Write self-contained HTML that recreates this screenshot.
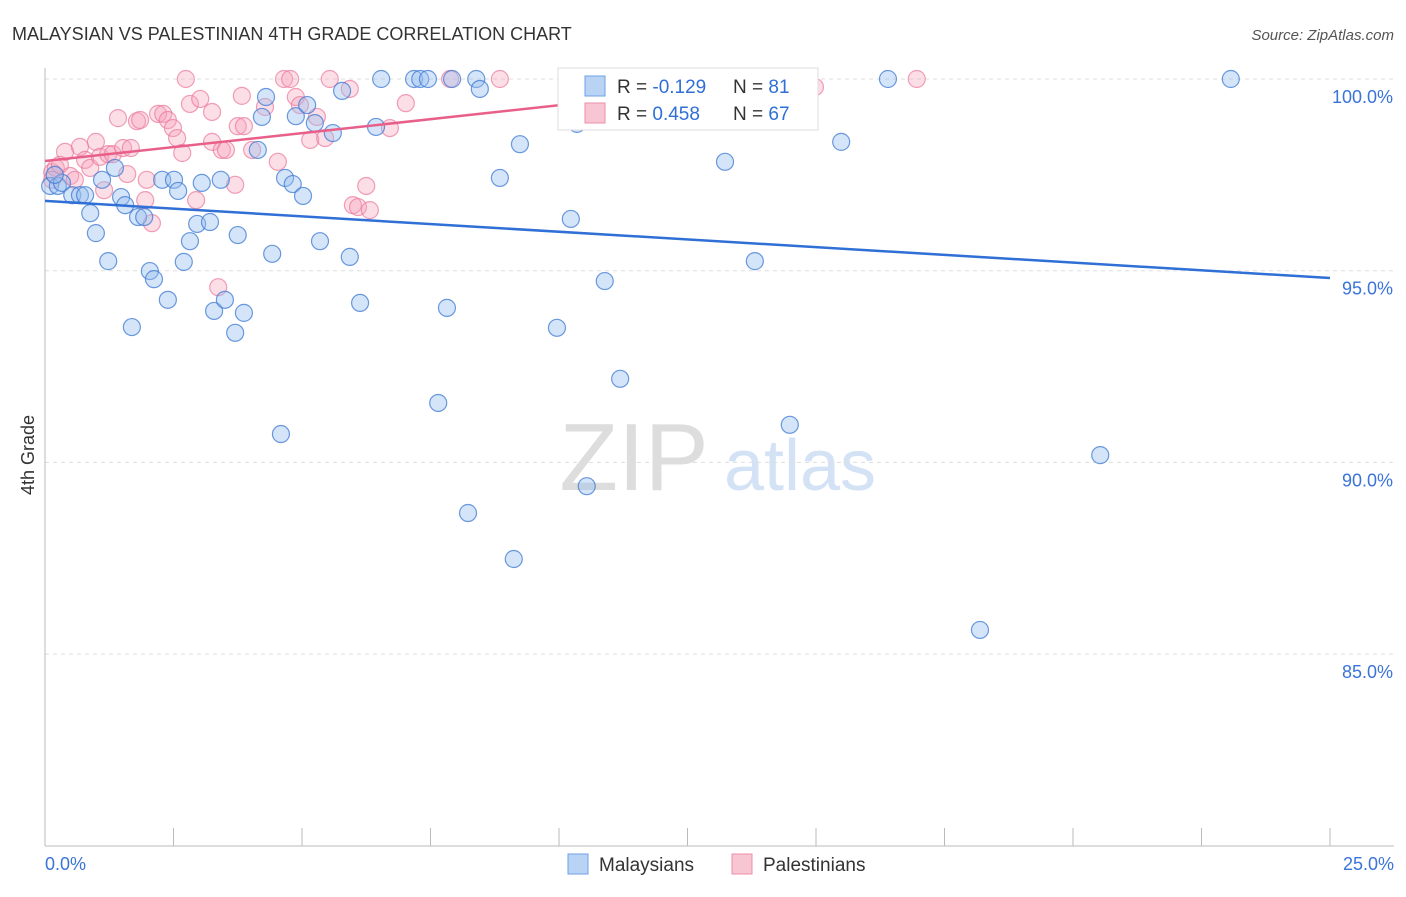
<!DOCTYPE html>
<html><head><meta charset="utf-8"><style>
body{margin:0;background:#fff;font-family:"Liberation Sans",sans-serif;}
svg text{font-family:"Liberation Sans",sans-serif;}
</style></head><body>
<svg id="chart" width="1406" height="892">
<text x="12" y="40" font-size="18" fill="#333">MALAYSIAN VS PALESTINIAN 4TH GRADE CORRELATION CHART</text>
<text x="1394" y="40" font-size="15" fill="#555" font-style="italic" text-anchor="end">Source: ZipAtlas.com</text>
<text x="634" y="490" font-size="96" fill="#ddd" font-family="Liberation Serif" text-anchor="middle">ZIP</text>
<text x="800" y="490" font-size="72" fill="#d4e2f5" text-anchor="middle">atlas</text>
<g id="grid"></g><g id="axes"></g><g id="pts"></g><g id="lines"></g>
<text x="34" y="455" font-size="18" fill="#333" transform="rotate(-90 34 455)" text-anchor="middle">4th Grade</text>
<g>
<rect x="558" y="68" width="260" height="62" fill="#fff" stroke="#ddd"/>
<rect x="585" y="76" width="20" height="20" fill="#b9d3f5" stroke="#6ea0e6"/>
<text x="617" y="93" font-size="19" fill="#333">R = <tspan fill="#2f6fd6">-0.129</tspan></text>
<text x="733" y="93" font-size="19" fill="#333">N = <tspan fill="#2f6fd6">81</tspan></text>
<rect x="585" y="103" width="20" height="20" fill="#f8c5d3" stroke="#eb8fab"/>
<text x="617" y="120" font-size="19" fill="#333">R = <tspan fill="#2f6fd6"> 0.458</tspan></text>
<text x="733" y="120" font-size="19" fill="#333">N = <tspan fill="#2f6fd6">67</tspan></text>
</g>
<g>
<rect x="568" y="854" width="20" height="20" fill="#b9d3f5" stroke="#6ea0e6"/>
<text x="599" y="871" font-size="19" fill="#333">Malaysians</text>
<rect x="732" y="854" width="20" height="20" fill="#f8c5d3" stroke="#eb8fab"/>
<text x="763" y="871" font-size="19" fill="#333">Palestinians</text>
</g>
</svg>
<script>
const yTicks=[100,95,90,85];
const xTickLabels=["0.0%","25.0%"];
const bluePx=[[50,186],[58,186],[62,183],[72,195],[80,195],[85,195],[90,213],[96,233],[102,180],[108,261],[115,168],[121,197],[125,205],[132,327],[138,217],[144,217],[150,271],[154,279],[162,180],[168,300],[174,180],[178,191],[184,262],[190,241],[197,224],[202,183],[210,222],[214,311],[221,180],[225,300],[235,333],[238,235],[244,313],[258,150],[262,117],[266,97],[272,254],[281,434],[285,178],[293,184],[296,116],[303,196],[307,105],[315,123],[320,241],[333,133],[342,91],[350,257],[360,303],[376,127],[381,79],[414,79],[420,79],[428,79],[438,403],[447,308],[452,79],[468,513],[476,79],[480,89],[500,178],[514,559],[520,144],[557,328],[571,219],[577,124],[587,486],[600,92],[605,281],[620,379],[636,79],[725,162],[755,261],[770,79],[790,425],[841,142],[888,79],[980,630],[1100,455],[1231,79],[55,175]];
const pinkPx=[[52,172],[56,168],[60,165],[65,152],[70,176],[75,180],[80,147],[85,160],[90,168],[96,142],[100,157],[104,190],[108,154],[113,154],[118,118],[123,148],[127,174],[131,148],[137,121],[140,120],[145,200],[147,180],[152,223],[158,114],[163,114],[168,120],[173,128],[177,138],[182,153],[186,79],[190,104],[196,200],[200,99],[212,142],[212,112],[218,287],[222,150],[226,150],[235,185],[238,126],[242,96],[244,126],[252,150],[265,107],[278,162],[284,79],[290,79],[296,97],[300,105],[310,140],[317,117],[325,138],[330,79],[350,89],[353,205],[358,207],[366,186],[370,210],[390,128],[406,103],[450,79],[500,79],[640,79],[652,79],[815,87],[917,79],[52,180]];
// data values (x in %, y in %)
const blueX=bluePx.map(p=>+((p[0]-45)/1285*25).toFixed(2));
const blueY=bluePx.map(p=>+(100-(p[1]-79)/38.34).toFixed(2));
const pinkX=pinkPx.map(p=>+((p[0]-45)/1285*25).toFixed(2));
const pinkY=pinkPx.map(p=>+(100-(p[1]-79)/38.34).toFixed(2));
const blueTrend=[[0,96.82],[25,94.81]];
const pinkTrend=[[0,97.86],[14.7,100]];
const X=v=>45+v/25*1285, Y=v=>79+(100-v)*38.34;
const NS='http://www.w3.org/2000/svg';
function mk(t,a,p){const e=document.createElementNS(NS,t);for(const k in a)e.setAttribute(k,a[k]);p.appendChild(e);return e;}
const g=document.getElementById('grid'),ax=document.getElementById('axes'),pts=document.getElementById('pts'),ln=document.getElementById('lines');
yTicks.forEach(v=>{
 const l=mk('line',{x1:45,x2:1394,y1:Y(v),y2:Y(v),stroke:'#ddd','stroke-dasharray':'4,4'},g);
 
 
 const t=mk('text',{x:1393,y:Y(v)+24,'font-size':18,fill:'#3a74d8','text-anchor':'end'},g);
 t.textContent=v.toFixed(1)+'%';
 
 
});
const ya=mk('line',{x1:45,x2:45,y1:68,y2:846,stroke:'#bbb'},ax);


const xa=mk('line',{x1:45,x2:1394,y1:846,y2:846,stroke:'#bbb'},ax);


for(let i=0;i<=10;i++){const x=45+i*128.5;const tk=mk('line',{x1:x,x2:x,y1:828,y2:846,stroke:'#bbb'},ax);
 
 }
[[0,45,'start'],[25,1394,'end']].forEach((d,i)=>{const t=mk('text',{x:d[1],y:870,'font-size':18,fill:'#3a74d8','text-anchor':d[2]},ax);t.textContent=xTickLabels[i];
 
 });
function dots(xs,ys,fill,stroke,name){xs.forEach((x,i)=>{const c=mk('circle',{cx:X(x),cy:Y(ys[i]),r:8.5,fill:fill,stroke:stroke,'stroke-width':1.2},pts);
 
 });}
dots(pinkX,pinkY,'rgba(245,160,185,0.35)','rgba(235,120,155,0.7)','palestinian-point');
dots(blueX,blueY,'rgba(150,190,240,0.4)','rgba(60,120,210,0.75)','malaysian-point');
const bl=mk('line',{x1:X(blueTrend[0][0]),y1:Y(blueTrend[0][1]),x2:X(blueTrend[1][0]),y2:Y(blueTrend[1][1]),stroke:'#2f6fd6','stroke-width':2.5},ln);


const pl=mk('line',{x1:X(pinkTrend[0][0]),y1:Y(pinkTrend[0][1]),x2:X(pinkTrend[1][0]),y2:Y(pinkTrend[1][1]),stroke:'#e8608a','stroke-width':2.5},ln);


</script>
</body></html>
